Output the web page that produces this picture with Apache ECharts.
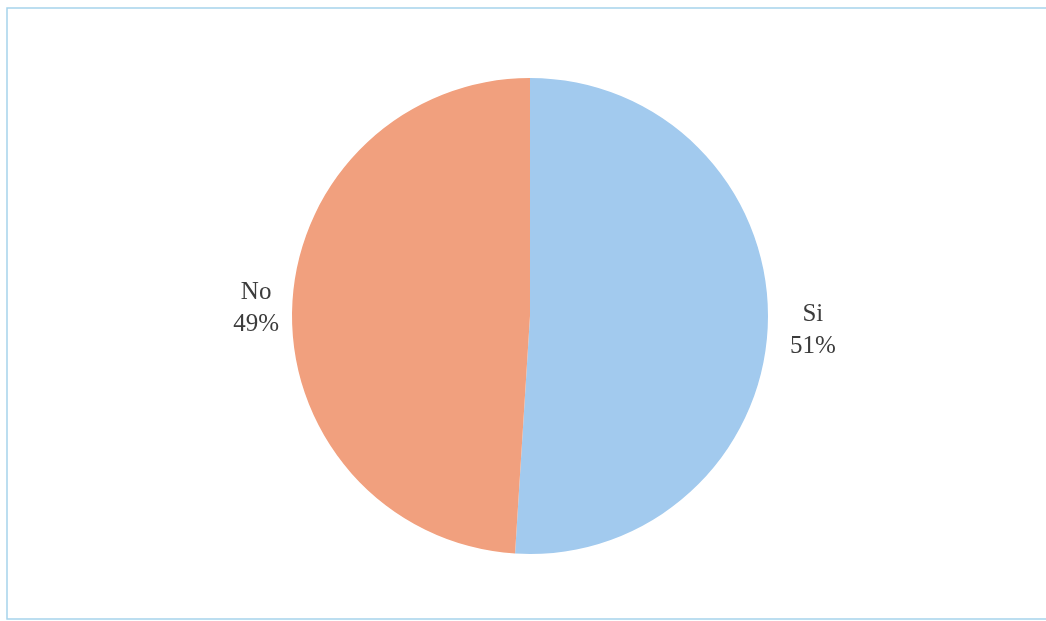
<!DOCTYPE html>
<html>
<head>
<meta charset="utf-8">
<script src="https://cdn.jsdelivr.net/npm/echarts@6/dist/echarts.min.js"></script>
<style>
html,body{margin:0;padding:0;background:#fff;}
#chart{width:1046px;height:621px;}
</style>
</head>
<body>
<div id="chart"></div>
<script>
const categories = ['Si', 'No'];
const values = [51, 49];
const colors = ['#A2CAEE', '#F1A07E'];

const chart = echarts.init(document.getElementById('chart'));
const lineLens = [{length: 5, length2: 5}, {length: 1, length2: 0}];
const labelPads = [[14, 0, 0, 0], [0, 0, 0, 0]];

chart.setOption({
  backgroundColor: '#ffffff',
  animation: false,
  graphic: [{
    type: 'rect',
    shape: {x: 7, y: 8, width: 1050, height: 611},
    style: {fill: 'none', stroke: '#A6D4EC', lineWidth: 1.5},
    silent: true
  }],
  series: [{
    type: 'pie',
    center: [530, 316],
    radius: 238,
    startAngle: 90,
    clockwise: true,
    avoidLabelOverlap: false,
    data: categories.map((c, i) => ({
      name: c,
      value: values[i],
      itemStyle: {color: colors[i]},
      label: {padding: labelPads[i]},
      labelLine: {show: false, length: lineLens[i].length, length2: lineLens[i].length2}
    })),
    itemStyle: {borderWidth: 0},
    label: {
      show: true,
      position: 'outside',
      distanceToLabelLine: 5,
      formatter: '{t|{b}}\n{t|{d}%}',
      rich: {
        t: {
          width: 60,
          align: 'center',
          fontFamily: 'Liberation Serif',
          fontSize: 25,
          lineHeight: 32,
          color: '#3c3c3c'
        }
      }
    },
    labelLine: {show: false},
    emphasis: {disabled: true}
  }]
});
</script>
</body>
</html>
